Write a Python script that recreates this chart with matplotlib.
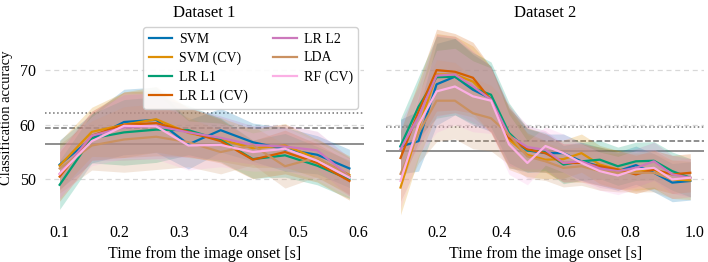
import matplotlib.pyplot as plt
import numpy as np

plt.rcParams['font.family'] = ['Liberation Serif', 'DejaVu Serif']

# Data
models = ["SVM", "SVM (CV)", "LR L1", "LR L1 (CV)", "LR L2", "LDA", "RF (CV)"]
colors = ["#0173b2", "#de8f05", "#029e73", "#d55e00", "#cc78bc", "#ca9161", "#fbafe4"]

time_1 = [0.100, 0.154, 0.208, 0.262, 0.316, 0.370, 0.424, 0.478, 0.532, 0.586]
acc_1 = {
    "SVM":        [52.7, 57.5, 60.5, 60.9, 56.4, 59.0, 56.8, 55.5, 54.5, 52.0],
    "SVM (CV)":   [52.5, 58.7, 60.0, 61.0, 58.5, 57.3, 55.7, 56.2, 53.8, 50.8],
    "LR L1":      [49.0, 57.5, 58.6, 59.1, 59.0, 57.2, 53.7, 54.4, 52.5, 50.0],
    "LR L1 (CV)": [50.5, 58.0, 60.0, 60.3, 58.7, 57.0, 53.6, 55.0, 53.0, 49.7],
    "LR L2":      [51.0, 58.0, 59.5, 59.8, 58.6, 57.6, 56.3, 56.0, 55.3, 50.5],
    "LDA":        [52.0, 56.2, 57.3, 57.8, 56.8, 55.0, 56.2, 52.4, 54.0, 50.5],
    "RF (CV)":    [51.0, 57.0, 59.8, 59.7, 56.2, 56.3, 55.0, 55.6, 53.4, 50.3],
}
spread_1 = [4.5, 4.5, 6.0, 6.0, 4.5, 4.0, 3.5, 4.0, 3.5, 3.5]

time_2 = [0.086, 0.142, 0.198, 0.255, 0.311, 0.367, 0.423, 0.480, 0.536,
          0.592, 0.648, 0.705, 0.761, 0.817, 0.873, 0.930, 0.986]
acc_2 = {
    "SVM":        [56.0, 57.0, 67.4, 68.8, 66.4, 64.8, 57.6, 55.3, 54.8, 54.8, 53.3, 52.4, 51.5, 52.6, 51.2, 49.4, 49.7],
    "SVM (CV)":   [48.5, 59.4, 69.2, 69.2, 67.9, 64.6, 57.3, 54.5, 53.6, 53.7, 54.8, 52.7, 51.8, 51.5, 51.8, 50.0, 49.8],
    "LR L1":      [56.1, 63.3, 68.7, 68.8, 66.7, 65.5, 58.5, 55.3, 55.1, 52.7, 53.3, 53.6, 52.4, 53.3, 53.4, 51.5, 50.3],
    "LR L1 (CV)": [53.9, 62.4, 70.0, 69.7, 68.6, 64.5, 57.6, 55.5, 54.8, 53.0, 53.0, 52.4, 51.8, 50.9, 51.8, 50.9, 51.2],
    "LR L2":      [55.5, 61.5, 69.0, 69.2, 67.0, 64.6, 58.0, 55.9, 55.4, 53.0, 53.3, 52.0, 51.5, 52.1, 53.3, 50.9, 50.3],
    "LDA":        [51.0, 58.5, 64.4, 64.4, 62.1, 61.2, 58.2, 54.2, 53.3, 52.1, 52.4, 51.5, 51.2, 51.2, 51.2, 50.0, 50.3],
    "RF (CV)":    [49.7, 60.0, 66.1, 67.0, 65.2, 64.4, 56.4, 53.0, 56.1, 54.8, 53.0, 51.5, 50.7, 51.8, 52.1, 50.0, 50.3],
}
spread_2 = [5.0, 5.5, 7.5, 7.0, 6.5, 6.0, 5.5, 4.0, 3.5, 3.5, 3.5, 3.5, 3.5, 3.5, 3.5, 3.5, 3.5]

# chance-level reference lines (solid, dashed, dotted)
chance_1 = [56.5, 59.4, 62.2]
chance_2 = [55.1, 57.1, 59.6]
chance_styles = ["-", "--", ":"]

titles = ["Dataset 1", "Dataset 2"]
xticks_1 = [0.1, 0.2, 0.3, 0.4, 0.5, 0.6]
xticks_2 = [0.2, 0.4, 0.6, 0.8, 1.0]
yticks = [50, 60, 70]


def draw_panel(ax, t, acc, spread, chance, title, xticks):
    t = np.array(t)
    s = np.array(spread)
    for name, c in zip(models, colors):
        y = np.array(acc[name])
        ax.fill_between(t, y - s, y + s, color=c, alpha=0.22, linewidth=0)
        ax.plot(t, y, color=c, lw=1.6, label=name)
    for level, ls in zip(chance, chance_styles):
        ax.axhline(level, color="#707070", ls=ls, lw=1.1, zorder=0.5)
    ax.set_title(title, fontsize=12, pad=1)
    ax.set_xticks(xticks)
    ax.set_xticklabels([f"{v:.1f}" for v in xticks])
    ax.set_xlabel("Time from the image onset [s]", fontsize=11.5)
    ax.grid(axis="y", ls=(0, (4, 3)), color="#d8d8d8", lw=0.9)
    ax.set_axisbelow(True)
    for sp in ax.spines.values():
        sp.set_visible(False)
    ax.tick_params(length=0, labelsize=11.5, pad=7)


fig, axes = plt.subplots(1, 2, figsize=(7.08, 2.62), dpi=100, sharey=True)
draw_panel(axes[0], time_1, acc_1, spread_1, chance_1, titles[0], xticks_1)
draw_panel(axes[1], time_2, acc_2, spread_2, chance_2, titles[1], xticks_2)

axes[0].set_ylim(43.5, 79)
axes[0].set_yticks(yticks)
axes[0].set_ylabel("Classification accuracy", fontsize=10.5, labelpad=5)
axes[0].set_xlim(0.076, 0.61)
axes[1].set_xlim(0.041, 1.03)

axes[0].legend(loc="upper right", bbox_to_anchor=(0.506, 0.897),
               bbox_transform=fig.transFigure, ncol=2, fontsize=10,
               frameon=True, borderaxespad=0, borderpad=0.4,
               handlelength=1.7, handletextpad=0.5, columnspacing=1.8,
               labelspacing=0.42, edgecolor="#cccccc", framealpha=0.9,
               fancybox=True)

fig.subplots_adjust(left=0.064, right=0.995, top=0.92, bottom=0.18, wspace=0.07)
fig.savefig("out.png", dpi=100)
